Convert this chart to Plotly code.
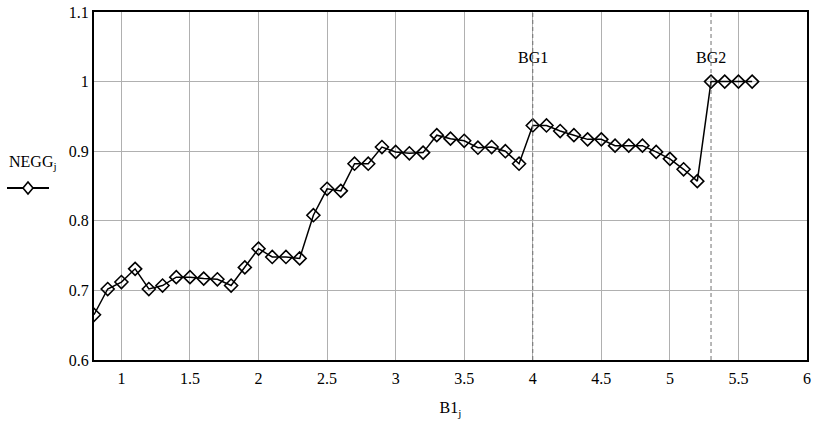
import plotly.graph_objects as go

b1 = [0.8, 0.9, 1.0, 1.1, 1.2, 1.3, 1.4, 1.5, 1.6, 1.7, 1.8, 1.9,
      2.0, 2.1, 2.2, 2.3, 2.4, 2.5, 2.6, 2.7, 2.8, 2.9,
      3.0, 3.1, 3.2, 3.3, 3.4, 3.5, 3.6, 3.7, 3.8, 3.9,
      4.0, 4.1, 4.2, 4.3, 4.4, 4.5, 4.6, 4.7, 4.8, 4.9,
      5.0, 5.1, 5.2, 5.3, 5.4, 5.5, 5.6]
negg = [0.665, 0.702, 0.712, 0.731, 0.702, 0.707, 0.719, 0.719, 0.717, 0.716, 0.707, 0.733,
        0.760, 0.748, 0.748, 0.746, 0.808, 0.846, 0.843, 0.882, 0.882, 0.906,
        0.899, 0.897, 0.898, 0.923, 0.918, 0.915, 0.905, 0.906, 0.900, 0.882,
        0.937, 0.937, 0.929, 0.923, 0.917, 0.917, 0.908, 0.908, 0.908, 0.899,
        0.889, 0.874, 0.857, 1.0, 1.0, 1.0, 1.0]
bg_pos = [4.0, 5.3]
bg_labels = ["BG1", "BG2"]
x_ticks = [1, 1.5, 2, 2.5, 3, 3.5, 4, 4.5, 5, 5.5, 6]
x_ticktext = ["1", "1.5", "2", "2.5", "3", "3.5", "4", "4.5", "5", "5.5", "6"]
y_ticks = [0.6, 0.7, 0.8, 0.9, 1.0, 1.1]
y_ticktext = ["0.6", "0.7", "0.8", "0.9", "1", "1.1"]
series_name = "NEGG<sub>j</sub>"

FONT = "Liberation Serif, Times New Roman, serif"
FS = 16
W, H = 815, 425
ML, MR, MT, MB = 94, 8, 12, 65
PW, PH = W - ML - MR, H - MT - MB


def px_x(p):
    return (p - ML) / PW


def px_y(p):
    return (H - MB - p) / PH


fig = go.Figure()
fig.add_trace(go.Scatter(
    x=b1, y=negg, mode="lines+markers", name=series_name,
    line=dict(color="black", width=1.5),
    marker=dict(symbol="diamond-open", size=10, color="black", line=dict(width=1.6, color="black")),
    showlegend=False,
))

for xp, lab in zip(bg_pos, bg_labels):
    fig.add_shape(type="line", xref="x", yref="paper", x0=xp, x1=xp, y0=0, y1=1,
                  line=dict(color="#707070", width=1, dash="4px,3px"), layer="above")
    fig.add_annotation(x=xp, y=1.035, xref="x", yref="y", text=lab, showarrow=False,
                       xanchor="center", yanchor="middle",
                       font=dict(family=FONT, size=FS, color="black"))

# legend key (text above a line-with-diamond sample)
fig.add_annotation(x=px_x(33), y=px_y(162), xref="paper", yref="paper",
                   text=series_name, showarrow=False, xanchor="center", yanchor="middle",
                   font=dict(family=FONT, size=FS, color="black"))
fig.add_shape(type="line", xref="paper", yref="paper",
              x0=px_x(7), x1=px_x(49), y0=px_y(188), y1=px_y(188),
              line=dict(color="black", width=1.8))
fig.add_shape(type="path", xref="paper", yref="paper",
              xsizemode="pixel", ysizemode="pixel",
              xanchor=px_x(28), yanchor=px_y(188),
              path="M -5,0 L 0,6 L 5,0 L 0,-6 Z",
              fillcolor="white", line=dict(color="black", width=1.6))

fig.update_layout(
    width=W, height=H,
    margin=dict(l=ML, r=MR, t=MT, b=MB, autoexpand=False),
    paper_bgcolor="white", plot_bgcolor="white",
    font=dict(family=FONT, size=FS, color="black"),
    showlegend=False,
    xaxis=dict(range=[0.8, 6], tickvals=x_ticks, ticktext=x_ticktext,
               showgrid=True, gridcolor="#b0b0b0", gridwidth=1,
               showline=True, linecolor="black", linewidth=2, mirror=True,
               ticks="", zeroline=False, automargin=False, ticklabelstandoff=3,
               title=dict(text="B1<sub>j</sub>", standoff=16, font=dict(family=FONT, size=FS))),
    yaxis=dict(range=[0.6, 1.1], tickvals=y_ticks, ticktext=y_ticktext,
               showgrid=True, gridcolor="#b0b0b0", gridwidth=1,
               showline=True, linecolor="black", linewidth=2, mirror=True,
               ticks="", zeroline=False, automargin=False),
)

fig.write_html("out.html", config={"displayModeBar": False},
               post_script="document.body.style.margin='0';")
